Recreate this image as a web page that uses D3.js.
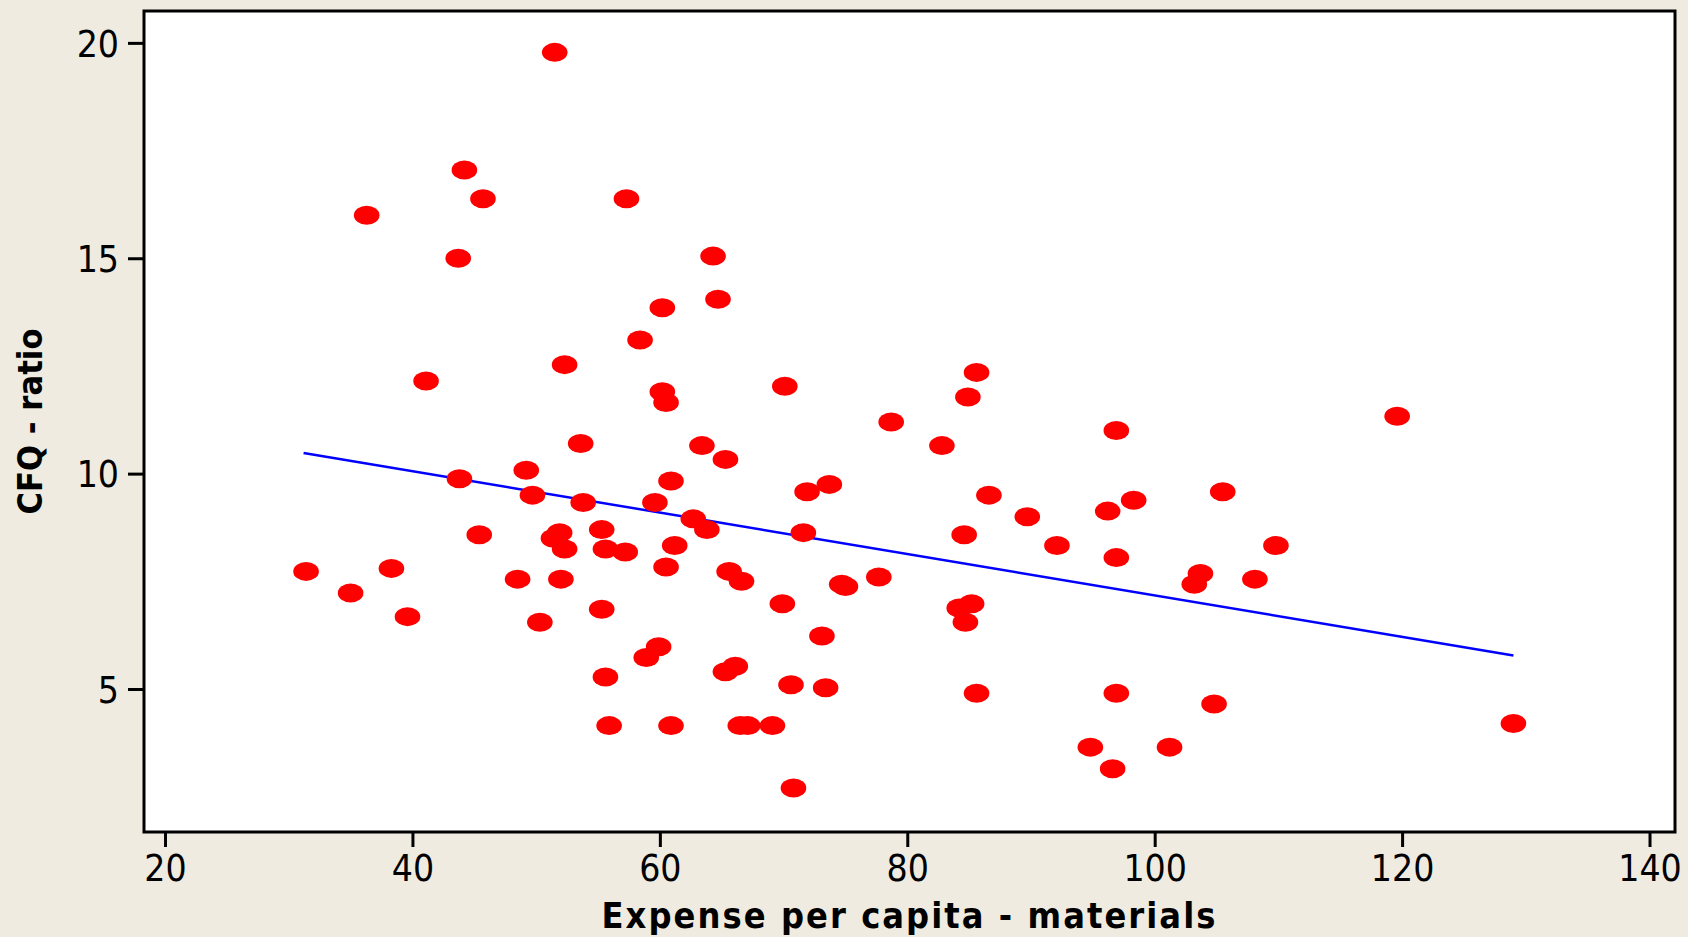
<!DOCTYPE html>
<html>
<head>
<meta charset="utf-8">
<script src="https://cdn.jsdelivr.net/npm/d3@7"></script>
<style>
  html, body { margin: 0; padding: 0; background: #EFEBE1; }
  svg { display: block; }
</style>
</head>
<body>
<svg id="chart" width="1688" height="937"></svg>
<script>
// Expense per capita - materials (x) and CFQ - ratio (y)
const expense = [51.5, 44.2, 45.7, 36.3, 57.3, 43.7, 64.3, 64.7, 60.2, 58.4,
  52.3, 41.1, 70.1, 85.6, 84.9, 60.2, 60.5, 119.6, 78.7, 96.9,
  53.6, 63.4, 82.8, 65.3, 49.2, 43.8, 60.9, 73.7, 71.9, 105.5,
  86.6, 49.7, 53.8, 59.6, 98.3, 96.2, 89.7, 62.7, 63.8, 55.3,
  51.9, 51.4, 45.4, 71.6, 84.6, 92.1, 109.8, 61.2, 52.3, 55.6,
  57.2, 96.9, 60.5, 38.3, 31.4, 65.6, 103.7, 66.6, 48.5, 52.0,
  77.7, 108.1, 103.2, 74.7, 75.0, 35.0, 69.9, 85.2, 84.2, 55.3,
  39.6, 84.7, 50.3, 73.1, 59.9, 58.9, 66.1, 65.3, 55.6, 70.6,
  73.4, 85.6, 96.9, 104.8, 129.0, 55.9, 60.9, 66.5, 67.1, 69.1,
  94.8, 101.2, 96.6, 70.8];
const cfq = [19.78, 17.05, 16.38, 16.0, 16.38, 15.0, 15.05, 14.05, 13.85, 13.1,
  12.53, 12.15, 12.03, 12.35, 11.78, 11.9, 11.65, 11.33, 11.2, 11.0,
  10.7, 10.65, 10.65, 10.33, 10.08, 9.88, 9.83, 9.75, 9.58, 9.58,
  9.5, 9.5, 9.33, 9.33, 9.38, 9.13, 9.0, 8.95, 8.7, 8.7,
  8.63, 8.5, 8.58, 8.63, 8.58, 8.33, 8.33, 8.33, 8.25, 8.25,
  8.18, 8.05, 7.83, 7.8, 7.73, 7.73, 7.68, 7.5, 7.55, 7.55,
  7.6, 7.55, 7.43, 7.43, 7.38, 7.23, 6.98, 6.98, 6.88, 6.85,
  6.68, 6.55, 6.55, 6.23, 5.98, 5.73, 5.53, 5.4, 5.28, 5.1,
  5.03, 4.9, 4.9, 4.65, 4.2, 4.15, 4.15, 4.15, 4.15, 4.15,
  3.65, 3.65, 3.15, 2.7];
// Fitted line end points
const fitX = [31.2, 129.0];
const fitY = [10.48, 5.78];
// Tick labels
const xTicks = [20, 40, 60, 80, 100, 120, 140];
const yTicks = [5, 10, 15, 20];
const xTitle = "Expense per capita - materials";
const yTitle = "CFQ - ratio";

const svg = d3.select("#chart");
const L = 144, R = 1675, T = 11, B = 832;
const x = d3.scaleLinear().domain([18.3, 142.06]).range([L, R]);
const y = d3.scaleLinear().domain([1.68, 20.74]).range([B, T]);
const tickFont = "'DejaVu Sans Condensed', 'DejaVu Sans', sans-serif";

// plot background
svg.append("rect").attr("x", L).attr("y", T).attr("width", R - L).attr("height", B - T)
  .attr("fill", "#ffffff");

// fit line
svg.append("line")
  .attr("x1", x(fitX[0])).attr("y1", y(fitY[0]))
  .attr("x2", x(fitX[1])).attr("y2", y(fitY[1]))
  .attr("stroke", "#0000ff").attr("stroke-width", 2.5);

// points
svg.append("g").selectAll("ellipse")
  .data(expense.map((v, i) => [v, cfq[i]]))
  .join("ellipse")
  .attr("cx", d => x(d[0])).attr("cy", d => y(d[1]))
  .attr("rx", 12.8).attr("ry", 9.5)
  .attr("fill", "#ff0000");

// frame
svg.append("rect").attr("x", L).attr("y", T).attr("width", R - L).attr("height", B - T)
  .attr("fill", "none").attr("stroke", "#000").attr("stroke-width", 3);

// axes
const xAxis = svg.append("g").attr("transform", `translate(0,${B})`)
  .call(d3.axisBottom(x).tickValues(xTicks).tickSize(15).tickPadding(8).tickFormat(d3.format("d")));
const yAxis = svg.append("g").attr("transform", `translate(${L},0)`)
  .call(d3.axisLeft(y).tickValues(yTicks).tickSize(16).tickPadding(9).tickFormat(d3.format("d")));
[xAxis, yAxis].forEach(g => {
  g.select(".domain").remove();
  g.selectAll(".tick line").attr("stroke", "#000").attr("stroke-width", 3);
  g.selectAll(".tick text").attr("fill", "#000")
    .style("font-family", tickFont).style("font-size", "37px");
});
yAxis.selectAll(".tick text").attr("dy", "0.36em");

// titles
svg.append("text")
  .attr("x", (L + R) / 2).attr("y", 928)
  .attr("text-anchor", "middle")
  .attr("textLength", 616).attr("lengthAdjust", "spacingAndGlyphs")
  .style("font-family", tickFont).style("font-weight", "bold").style("font-size", "35px")
  .style("letter-spacing", "2px")
  .text(xTitle);

svg.append("text")
  .attr("transform", `translate(42,${(T + B) / 2}) rotate(-90)`)
  .attr("text-anchor", "middle")
  .attr("textLength", 186).attr("lengthAdjust", "spacingAndGlyphs")
  .style("font-family", tickFont).style("font-weight", "bold").style("font-size", "34px")
  .text(yTitle);
</script>
</body>
</html>
